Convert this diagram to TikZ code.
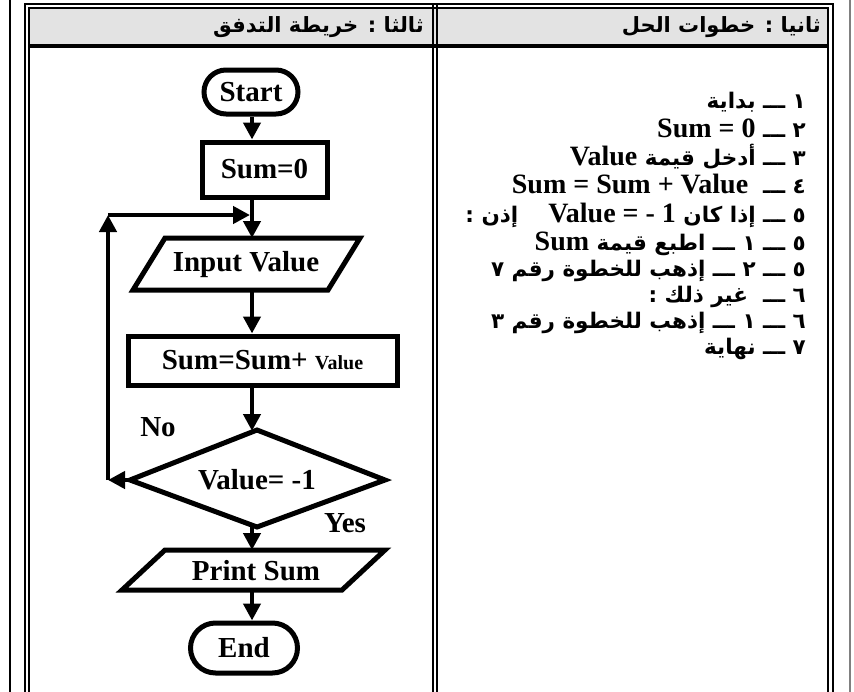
\documentclass[tikz,border=0pt]{standalone}
\usepackage{fontspec}
\setmainfont{Liberation Serif}
\newfontfamily\arabicfont[Script=Arabic,BoldFont={DejaVu Sans Bold}]{DejaVu Sans}
\TeXXeTstate=1
\usetikzlibrary{arrows.meta,shapes.geometric,shapes.misc}
\newcommand\arb{\arabicfont\bfseries\fontsize{21.5}{24}\selectfont}
\newcommand\latn{\rmfamily\bfseries\fontsize{28}{30}\selectfont}
\newcommand\flf{\rmfamily\bfseries\fontsize{29}{31}\selectfont}
\newcommand\tatw{ـــ}
\begin{document}
\begin{tikzpicture}[x=1pt,y=-1pt,
  frame/.style={line width=2.4pt},
  shp/.style={draw, line width=5pt, fill=white},
  term/.style={draw, rounded rectangle, line width=5pt, fill=white, inner sep=0pt},
  boxn/.style={draw, rectangle, line width=5pt, fill=white, inner sep=0pt},
  fl/.style={font=\flf, inner sep=0pt},
  arr/.style={line width=4.5pt, -{Triangle[length=17pt,width=17pt]}},
  step line/.style={anchor=base east, inner sep=0pt},
  head/.style={anchor=east, inner sep=0pt, font=\arabicfont\bfseries\fontsize{21}{24}\selectfont},
]
\useasboundingbox (0,0) rectangle (854,691);
% table
\fill[gray!22] (29,8) rectangle (828,45);
\draw[line width=2pt] (10,-5) -- (10,700);
\draw[line width=2pt, gray] (850,-5) -- (850,700);
\draw[frame] (25,700) -- (25,4) -- (833,4) -- (833,700);
\draw[line width=2pt] (29,700) -- (29,8) -- (828,8) -- (828,700);
\fill (29,44) rectangle (828,48);
\draw[frame] (433,4) -- (433,700);
\draw[frame] (437,4) -- (437,700);
% headers
\node[head] (h1) at (424,27) {\beginR ثالثا : خريطة التدفق\endR};
\node[head] (h2) at (821,27) {\beginR ثانيا : خطوات الحل\endR};
% steps
\node[step line] (s1) at (806,108) {\arb\beginR ١ \tatw\ بداية\endR};
\node[step line] (s2) at (806,137) {\arb\beginR ٢ \tatw\ {\beginL\latn Sum = 0\endL}\endR};
\node[step line] (s3) at (806,165) {\arb\beginR ٣ \tatw\ أدخل قيمة {\beginL\latn Value\endL}\endR};
\node[step line] (s4) at (806,193) {\arb\beginR ٤ \tatw\ \ {\beginL\latn Sum = Sum + Value\endL}\endR};
\node[step line] (s5) at (806,222) {\arb\beginR ٥ \tatw\ إذا كان {\beginL\latn Value = - 1\endL}\hspace{30pt}إذن :\endR};
\node[step line] (s6) at (806,250) {\arb\beginR ٥ \tatw\ ١ \tatw\ اطبع قيمة {\beginL\latn Sum\endL}\endR};
\node[step line] (s7) at (806,276) {\arb\beginR ٥ \tatw\ ٢ \tatw\ إذهب للخطوة رقم ٧\endR};
\node[step line] (s8) at (806,302) {\arb\beginR ٦ \tatw\ \ غير ذلك :\endR};
\node[step line] (s9) at (806,328) {\arb\beginR ٦ \tatw\ ١ \tatw\ إذهب للخطوة رقم ٣\endR};
\node[step line] (s10) at (806,354) {\arb\beginR ٧ \tatw\ نهاية\endR};
% flowchart shapes
\node[term, minimum width=94pt, minimum height=44pt, font=\flf] (start) at (251,92) {Start};
\node[boxn, minimum width=125pt, minimum height=55pt, font=\flf] (sum0) at (264.5,169.5) {Sum=0};
\draw[shp] (165,238) -- (360,238) -- (328,290) -- (133,290) -- cycle;
\node[fl] (inp) at (246,265) {Input Value};
\node[boxn, minimum width=269pt, minimum height=49pt, font=\flf] (calc) at (262.5,360.5) {Sum=Sum+ {\fontsize{20}{21}\selectfont Value}};
\draw[shp] (130,480) -- (257,430) -- (385,480) -- (257,527) -- cycle;
\node[fl] (dec) at (257,480) {Value= -1};
\draw[shp] (165,550) -- (385,550) -- (342,590) -- (122,590) -- cycle;
\node[fl] (prn) at (256,571) {Print Sum};
\node[term, minimum width=107pt, minimum height=50pt, font=\flf] (end) at (244,648) {End};
\node[fl] (no) at (158,427) {No};
\node[fl] (yes) at (345,523) {Yes};
% anchor coordinates
\coordinate (inpT) at (252,238);
\coordinate (inpB) at (252,290);
\coordinate (decT) at (252,431);
\coordinate (decB) at (252,525);
\coordinate (decL) at (130,480);
\coordinate (prnT) at (252,550);
\coordinate (prnB) at (252,590);
\coordinate (loopB) at (108,480);
\coordinate (loopT) at (108,215);
\coordinate (loopE) at (250,215);
% connectors
\draw[arr] (start.south -| inpT) -- (inpT |- sum0.north);
\draw[arr] (sum0.south -| inpT) -- (inpT);
\draw[arr] (inpB) -- (inpB |- calc.north);
\draw[arr] (calc.south -| inpB) -- (decT);
\draw[arr] (decB) -- (prnT);
\draw[arr] (prnB) -- (prnB |- end.north);
\draw[arr] (decL) -- (loopB);
\draw[arr] (loopB) -- (loopT);
\draw[arr] (loopT) -- (loopE);
\end{tikzpicture}
\end{document}
